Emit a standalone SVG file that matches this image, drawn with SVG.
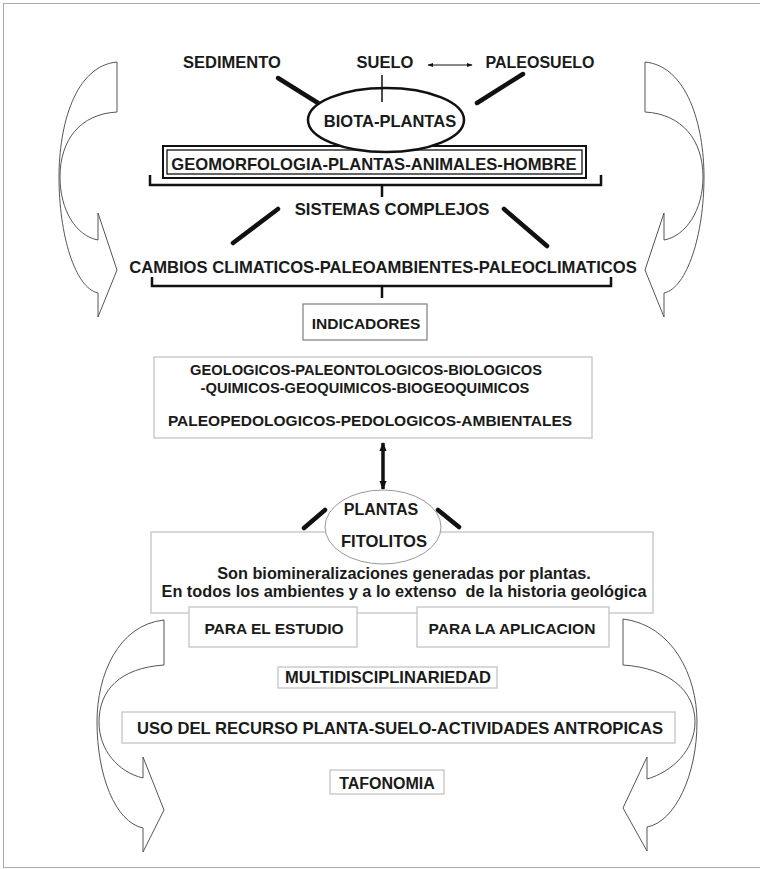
<svg xmlns="http://www.w3.org/2000/svg" width="760" height="869" viewBox="0 0 760 869">
<defs>
<style>
.t{font-family:"Liberation Sans",Arial,sans-serif;font-weight:bold;fill:#1a1a1a;text-anchor:middle}
.ca{fill:#fff;stroke:#555;stroke-width:1;stroke-linejoin:miter}
.lb{fill:#fff;stroke:#c4c4c4;stroke-width:1.3}
.thick{stroke:#111;stroke-width:4.5;stroke-linecap:round}
.br{fill:none;stroke:#111;stroke-width:2.5}
</style>
<marker id="ah" viewBox="0 0 10 10" refX="9" refY="5" markerWidth="6" markerHeight="6" orient="auto-start-reverse" markerUnits="userSpaceOnUse">
<path d="M0,1.5 L10,5 L0,8.5 Z" fill="#111"/>
</marker>
<marker id="ahb" viewBox="0 0 10 10" refX="9" refY="5" markerWidth="9" markerHeight="12" orient="auto-start-reverse" markerUnits="userSpaceOnUse">
<path d="M0,1 L10,5 L0,9 Z" fill="#111"/>
</marker>
</defs>
<rect x="0" y="0" width="760" height="869" fill="#fff"/>
<rect x="3.5" y="3.5" width="770" height="864" fill="none" stroke="#aaa" stroke-width="1"/>

<g id="curved-arrows">
<path class="ca" d="M117,62 C75,66 59,125 59,177 C59,235 75,288 98,293 L98,317 L117,270 L98,213 L98,240 C76,236 60,210 60,177 C60,140 80,114 117,112 Z"/>
<path class="ca" d="M645,62 C687,66 704,125 704,177 C704,235 687,288 664,293 L664,317 L645,270 L664,213 L664,240 C686,236 703,210 703,177 C703,140 682,114 645,112 Z"/>
<path class="ca" d="M164,620 C118,625 97,675 97,722 C97,775 115,822 143,828 L143,852 L164,810 L143,757 L143,778 C118,772 99,750 99,722 C99,690 120,668 164,665 Z"/>
<path class="ca" d="M623,619 C672,625 697,675 697,722 C697,775 675,822 647,827 L647,851 L623,808 L647,757 L647,779 C672,772 695,750 695,722 C695,690 668,668 623,665 Z"/>
</g>

<g id="connectors">
<line class="thick" x1="278" y1="78" x2="318" y2="103"/>
<line class="thick" x1="523" y1="74" x2="477" y2="103"/>
<line x1="382" y1="75" x2="382" y2="102" stroke="#111" stroke-width="1.5"/>
<line x1="428" y1="65" x2="472" y2="65" stroke="#111" stroke-width="1" marker-start="url(#ah)" marker-end="url(#ah)"/>
<path class="br" d="M150,175 V185 H601 V175 M382,185 V197"/>
<line class="thick" x1="278" y1="209" x2="233" y2="243"/>
<line class="thick" x1="504" y1="209" x2="547" y2="246"/>
<path class="br" d="M152,277 V286 H611 V277 M382,286 V298"/>
<line x1="383" y1="443" x2="383" y2="489" stroke="#111" stroke-width="3.5" marker-start="url(#ahb)" marker-end="url(#ahb)"/>
<line class="thick" x1="325" y1="510" x2="304" y2="528" stroke-width="4"/>
<line class="thick" x1="438" y1="510" x2="459" y2="527" stroke-width="4"/>
</g>

<g id="sedimento"><text class="t" x="232" y="68" font-size="16.5">SEDIMENTO</text></g>
<g id="suelo"><text class="t" x="385" y="68" font-size="16.5">SUELO</text></g>
<g id="paleosuelo"><text class="t" x="540" y="68" font-size="16">PALEOSUELO</text></g>

<g id="geomorfologia">
<rect x="163" y="146" width="423" height="32" fill="#fff" stroke="#111" stroke-width="2"/>
<rect x="167" y="150" width="415" height="24" fill="none" stroke="#111" stroke-width="1.3"/>
<text class="t" x="374" y="170" font-size="16.6">GEOMORFOLOGIA-PLANTAS-ANIMALES-HOMBRE</text>
</g>

<g id="biota-plantas">
<ellipse cx="386" cy="120" rx="78" ry="32" fill="#fff" stroke="#111" stroke-width="2.5"/>
<line x1="382" y1="88" x2="382" y2="102" stroke="#111" stroke-width="1.5"/>
<text class="t" x="390" y="127" font-size="16.5">BIOTA-PLANTAS</text>
</g>

<g id="sistemas-complejos"><text class="t" x="392" y="215" font-size="16.7">SISTEMAS COMPLEJOS</text></g>

<g id="cambios"><text class="t" x="383" y="273" font-size="16.6">CAMBIOS CLIMATICOS-PALEOAMBIENTES-PALEOCLIMATICOS</text></g>

<g id="indicadores">
<rect x="303" y="304" width="124" height="36" fill="#fff" stroke="#888" stroke-width="1.3"/>
<text class="t" x="366" y="329" font-size="15.5">INDICADORES</text>
</g>

<g id="tipos-indicadores">
<rect class="lb" x="154" y="357" width="438" height="81"/>
<text class="t" x="366" y="375" font-size="14.7">GEOLOGICOS-PALEONTOLOGICOS-BIOLOGICOS</text>
<text class="t" x="365" y="393" font-size="14.7">-QUIMICOS-GEOQUIMICOS-BIOGEOQUIMICOS</text>
<text class="t" x="370" y="426" font-size="15.5">PALEOPEDOLOGICOS-PEDOLOGICOS-AMBIENTALES</text>
</g>

<g id="fitolitos-box">
<rect class="lb" x="151" y="532" width="502" height="81"/>
<text class="t" x="404" y="579" font-size="16.3">Son biomineralizaciones generadas por plantas.</text>
<text class="t" x="404" y="597" font-size="16.3" xml:space="preserve">En todos los ambientes y a lo extenso  de la historia geológica</text>
</g>

<g id="plantas-fitolitos">
<ellipse cx="383" cy="527" rx="58" ry="37" fill="#fff" stroke="#999" stroke-width="1"/>
<text class="t" x="381" y="515" font-size="16">PLANTAS</text>
<text class="t" x="384" y="547" font-size="16.6">FITOLITOS</text>
</g>

<g id="para-estudio">
<rect class="lb" x="189" y="607" width="168" height="40" fill="none"/>
<text class="t" x="274" y="634" font-size="15.5">PARA EL ESTUDIO</text>
</g>

<g id="para-aplicacion">
<rect class="lb" x="417" y="607" width="192" height="40" fill="none"/>
<text class="t" x="512" y="634" font-size="15.5">PARA LA APLICACION</text>
</g>

<g id="multidisciplinariedad">
<rect class="lb" x="278" y="667" width="219" height="21"/>
<text class="t" x="388" y="683" font-size="16.5">MULTIDISCIPLINARIEDAD</text>
</g>

<g id="uso-recurso">
<rect class="lb" x="122" y="712" width="553" height="31"/>
<text class="t" x="400" y="734" font-size="16.6">USO DEL RECURSO PLANTA-SUELO-ACTIVIDADES ANTROPICAS</text>
</g>

<g id="tafonomia">
<rect class="lb" x="330" y="770" width="114" height="24"/>
<text class="t" x="387" y="789" font-size="16">TAFONOMIA</text>
</g>
</svg>
